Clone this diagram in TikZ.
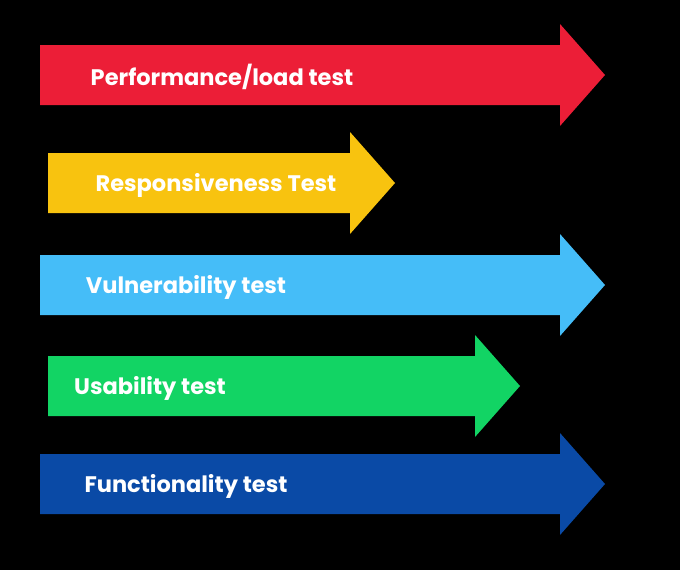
\documentclass[tikz,border=0pt]{standalone}
\usepackage{fontspec}
\setmainfont{Poppins}
\definecolor{perfred}{HTML}{EC1E37}
\definecolor{respyellow}{HTML}{F8C30F}
\definecolor{vulnblue}{HTML}{45BDF8}
\definecolor{usegreen}{HTML}{12D464}
\definecolor{funcblue}{HTML}{0A4AA6}
\tikzset{
  testlabel/.style={text=white, font=\bfseries\fontsize{22.5}{26}\selectfont, inner sep=0pt},
}
\begin{document}
\begin{tikzpicture}[x=1pt,y=-1pt]
  \fill[black] (0,0) rectangle (680,570);
  \useasboundingbox (0,0) rectangle (680,570);

  % Arrows: left, neck, tip, centre y, colour, label x, name, text
  \foreach \l/\n/\t/\c/\col/\lx/\nm/\txt in {
      40/560/605/75/perfred/222/perf/Performance\slash load test,
      48/350/395/183/respyellow/216/resp/Responsiveness Test,
      40/560/605/285/vulnblue/186/vuln/Vulnerability test,
      48/475/520/386/usegreen/150/usab/Usability test,
      40/560/605/484/funcblue/186/func/Functionality test} {
    \fill[\col] (\l,\c-30) -- (\n,\c-30) -- (\n,\c-51) -- (\t,\c)
      -- (\n,\c+51) -- (\n,\c+30) -- (\l,\c+30) -- cycle;
    \node[testlabel] (\nm) at (\lx,\c+2) {\txt};
  }
\end{tikzpicture}
\end{document}
